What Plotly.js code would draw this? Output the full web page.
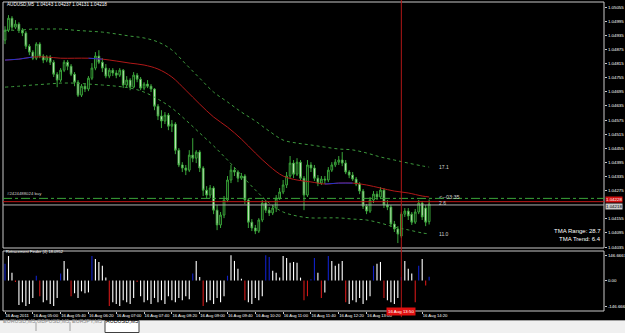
<!DOCTYPE html>
<html><head><meta charset="utf-8">
<script src="https://cdn.plot.ly/plotly-3.0.1.min.js"></script>
<style>html,body{margin:0;padding:0;background:#000;}#chart{width:625px;height:333px;}</style>
</head><body><div id="chart"></div>
<script>
// ---- data (AUDUSD,M5, 16 Aug 2011, bars from 04:20) ----
const opens = [1.04915,1.04957,1.05008,1.04970,1.04983,1.04957,1.04945,1.04889,1.04864,1.04838,
1.04898,1.04847,1.04830,1.04843,1.04821,1.04770,1.04745,1.04787,1.04821,1.04804,
1.04770,1.04736,1.04681,1.04719,1.04707,1.04753,1.04796,1.04847,1.04821,1.04796,
1.04762,1.04787,1.04775,1.04766,1.04787,1.04724,1.04745,1.04715,1.04766,1.04749,
1.04711,1.04728,1.04719,1.04707,1.04634,1.04592,1.04571,1.04596,1.04549,1.04558,
1.04447,1.04384,1.04371,1.04362,1.04426,1.04413,1.04439,1.04371,1.04277,1.04256,
1.04286,1.04192,1.04129,1.04171,1.04235,1.04320,1.04362,1.04354,1.04328,1.04337,
1.04235,1.04141,1.04116,1.04103,1.04150,1.04222,1.04192,1.04180,1.04201,1.04243,
1.04269,1.04299,1.04337,1.04392,1.04345,1.04396,1.04328,1.04256,1.04384,1.04371,
1.04328,1.04307,1.04324,1.04320,1.04362,1.04384,1.04396,1.04405,1.04392,1.04354,
1.04341,1.04324,1.04303,1.04273,1.04209,1.04188,1.04235,1.04260,1.04248,1.04277,
1.04214,1.04205,1.04133,1.04112,1.04082,1.04175,1.04188,1.04175,1.04141,1.04184,
1.04222,1.04201,1.04143];
const highs = [1.04974,1.05021,1.05017,1.05000,1.04991,1.04966,1.04953,1.04898,1.04872,1.04906,
1.04906,1.04855,1.04851,1.04851,1.04830,1.04779,1.04796,1.04830,1.04830,1.04813,
1.04779,1.04745,1.04728,1.04732,1.04762,1.04817,1.04864,1.04872,1.04838,1.04813,
1.04796,1.04796,1.04787,1.04796,1.04792,1.04762,1.04753,1.04779,1.04775,1.04758,
1.04736,1.04745,1.04728,1.04711,1.04643,1.04617,1.04609,1.04605,1.04575,1.04566,
1.04456,1.04396,1.04384,1.04447,1.04498,1.04447,1.04447,1.04379,1.04294,1.04299,
1.04294,1.04214,1.04184,1.04252,1.04337,1.04384,1.04375,1.04362,1.04350,1.04345,
1.04243,1.04154,1.04129,1.04158,1.04235,1.04235,1.04205,1.04214,1.04256,1.04286,
1.04320,1.04354,1.04422,1.04405,1.04413,1.04405,1.04337,1.04405,1.04396,1.04384,
1.04341,1.04337,1.04337,1.04375,1.04396,1.04409,1.04422,1.04439,1.04405,1.04362,
1.04354,1.04333,1.04311,1.04282,1.04218,1.04248,1.04273,1.04273,1.04290,1.04286,
1.04235,1.04214,1.04146,1.04124,1.04184,1.04201,1.04201,1.04184,1.04197,1.04235,
1.04231,1.04214,1.04237];
const lows = [1.04898,1.04949,1.04957,1.04962,1.04945,1.04932,1.04877,1.04851,1.04830,1.04830,
1.04838,1.04817,1.04821,1.04809,1.04758,1.04715,1.04736,1.04779,1.04787,1.04762,
1.04719,1.04673,1.04673,1.04694,1.04698,1.04745,1.04787,1.04813,1.04779,1.04753,
1.04753,1.04762,1.04753,1.04758,1.04711,1.04715,1.04702,1.04711,1.04736,1.04702,
1.04702,1.04711,1.04694,1.04617,1.04575,1.04541,1.04558,1.04532,1.04524,1.04430,
1.04375,1.04354,1.04341,1.04354,1.04396,1.04392,1.04354,1.04252,1.04243,1.04243,
1.04175,1.04107,1.04116,1.04158,1.04226,1.04307,1.04337,1.04311,1.04320,1.04218,
1.04116,1.04103,1.04090,1.04095,1.04141,1.04180,1.04167,1.04171,1.04184,1.04235,
1.04260,1.04286,1.04328,1.04328,1.04337,1.04320,1.04192,1.04248,1.04354,1.04316,
1.04294,1.04299,1.04303,1.04311,1.04354,1.04375,1.04384,1.04379,1.04345,1.04328,
1.04316,1.04294,1.04260,1.04197,1.04175,1.04180,1.04222,1.04235,1.04239,1.04201,
1.04192,1.04120,1.04099,1.04052,1.04073,1.04163,1.04150,1.04129,1.04133,1.04175,
1.04150,1.04124,1.04131];
const closes = [1.04957,1.05008,1.04970,1.04983,1.04957,1.04945,1.04889,1.04864,1.04838,1.04898,
1.04847,1.04830,1.04843,1.04821,1.04770,1.04745,1.04787,1.04821,1.04804,1.04770,
1.04736,1.04681,1.04719,1.04707,1.04753,1.04796,1.04847,1.04821,1.04796,1.04762,
1.04787,1.04775,1.04766,1.04787,1.04724,1.04745,1.04715,1.04766,1.04749,1.04711,
1.04728,1.04719,1.04707,1.04634,1.04592,1.04571,1.04596,1.04549,1.04558,1.04447,
1.04384,1.04371,1.04362,1.04426,1.04413,1.04439,1.04371,1.04277,1.04256,1.04286,
1.04192,1.04129,1.04171,1.04235,1.04320,1.04362,1.04354,1.04328,1.04337,1.04235,
1.04141,1.04116,1.04103,1.04150,1.04222,1.04192,1.04180,1.04201,1.04243,1.04269,
1.04299,1.04337,1.04392,1.04345,1.04396,1.04328,1.04256,1.04384,1.04371,1.04328,
1.04307,1.04324,1.04320,1.04362,1.04384,1.04396,1.04405,1.04392,1.04354,1.04341,
1.04324,1.04303,1.04273,1.04209,1.04188,1.04235,1.04260,1.04248,1.04277,1.04214,
1.04205,1.04133,1.04112,1.04090,1.04175,1.04188,1.04167,1.04141,1.04184,1.04222,
1.04163,1.04141,1.04218];

// TMA bands, read every 4 bars
const bandIdx = [0,4,8,12,16,20,24,28,32,36,40,44,48,52,56,60,64,68,72,76,80,84,88,92,96,100,104,108,112,116,120,122];
const tmaUpper = [1.04957,1.04957,1.04962,1.04962,1.04962,1.04957,1.04953,1.04949,1.04941,1.04932,1.04924,1.04907,1.04873,1.04813,1.04753,1.04694,1.04652,1.04609,1.04571,1.04528,1.04490,1.04477,1.04469,1.04460,1.04452,1.04448,1.04435,1.04418,1.04405,1.04392,1.04380,1.04375];
const tmaMiddle = [1.04830,1.04834,1.04843,1.04843,1.04838,1.04838,1.04838,1.04834,1.04826,1.04817,1.04809,1.04792,1.04758,1.04702,1.04643,1.04588,1.04545,1.04494,1.04435,1.04380,1.04337,1.04320,1.04312,1.04303,1.04307,1.04307,1.04299,1.04286,1.04273,1.04265,1.04252,1.04248];
const tmaLower = [1.04715,1.04719,1.04724,1.04728,1.04732,1.04732,1.04728,1.04724,1.04719,1.04711,1.04694,1.04664,1.04626,1.04575,1.04520,1.04465,1.04405,1.04341,1.04278,1.04222,1.04184,1.04167,1.04159,1.04159,1.04159,1.04154,1.04150,1.04137,1.04120,1.04108,1.04095,1.04091];
const tmaRising = [[0,8],[24,28],[92,100]]; // bar spans where the centre line is blue

// Retracement Finder (4)
const retrace = [96,141,45,-8,-141,-124,-146,-135,-100,28,
-90,-124,-113,-135,-146,-100,40,113,68,-90,
-73,-100,-62,-73,-68,141,124,107,85,17,
-146,-124,-135,-146,-113,-124,-135,-100,-8,-90,
-124,-113,-135,-100,-124,-113,-135,-90,-113,-124,
-100,-113,-90,-107,40,113,20,-146,-124,-113,
-135,-100,-124,-90,28,146,113,68,10,-113,
-124,-135,-100,-113,-90,146,135,56,45,17,
141,130,102,107,102,17,-113,-90,8,130,
45,-100,-68,141,113,85,96,113,-124,-135,
-113,-124,-100,-135,-113,-90,85,96,107,-100,
-113,-124,-135,-100,20,113,68,40,-124,85,
124,-28,22];
const upSignals = [0,9,16,25,54,64,75,76,88,89,93,106,114,119,122];
const downSignals = [3,10,19,30,38,57,69,86,87,91,98,109,118,121];

// axis labels (the 1.04215 and 13:40 labels are hidden under the price / time boxes)
const priceTicks = [1.05055,1.04995,1.04935,1.04875,1.04815,1.04755,1.04695,1.04635,1.04575,1.04515,
1.04455,1.04395,1.04335,1.04275,1.04155,1.04095,1.04035];
const tickLabels = ['16 Aug 2011','16 Aug 05:00','16 Aug 05:40','16 Aug 06:20','16 Aug 07:00','16 Aug 07:40',
'16 Aug 08:20','16 Aug 09:00','16 Aug 09:40','16 Aug 10:20','16 Aug 11:00','16 Aug 11:40','16 Aug 12:20',
'16 Aug 13:00','','16 Aug 14:20'];
const tabs = ['EURUSD,M5','GBPUSD,M5','EURJPY,M5','AUDUSD,M5'];

// ---- build ----
const start = Date.UTC(2011,7,16,4,20);
const BAR = 5*60*1000;
function fmt(ms){ return new Date(ms).toISOString().slice(0,19).replace('T',' '); }
const times = opens.map((_,i)=>fmt(start+i*BAR));
const bandTimes = bandIdx.map(i=>fmt(start+i*BAR));
const tickVals = tickLabels.map((_,k)=>fmt(start+k*8*BAR));

const green = '#3aa63a';
const traces = [];
traces.push({type:'scatter',mode:'lines',x:bandTimes,y:tmaUpper,line:{color:'#3d9a3d',width:1,dash:'dot',shape:'spline'},xaxis:'x',yaxis:'y'});
traces.push({type:'scatter',mode:'lines',x:bandTimes,y:tmaLower,line:{color:'#3d9a3d',width:1,dash:'dot',shape:'spline'},xaxis:'x',yaxis:'y'});
traces.push({type:'scatter',mode:'lines',x:bandTimes,y:tmaMiddle,line:{color:'#b01818',width:1,shape:'spline'},xaxis:'x',yaxis:'y'});
tmaRising.forEach(([a,b])=>{
  const xs=[],ys=[];
  bandIdx.forEach((bi,k)=>{ if(bi>=a&&bi<=b){xs.push(bandTimes[k]);ys.push(tmaMiddle[k]);} });
  traces.push({type:'scatter',mode:'lines',x:xs,y:ys,line:{color:'#2233cc',width:1},xaxis:'x',yaxis:'y'});
});
traces.push({type:'candlestick',x:times,open:opens,high:highs,low:lows,close:closes,xaxis:'x',yaxis:'y',whiskerwidth:0,
  increasing:{line:{color:green,width:1},fillcolor:'#000000'},
  decreasing:{line:{color:green,width:1},fillcolor:'#eef8e4'}});
const barColors = retrace.map((v,i)=> upSignals.includes(i)?'#1020c8':(downSignals.includes(i)?'#d01818':'#ffffff'));
traces.push({type:'bar',x:times,y:retrace,marker:{color:barColors,line:{width:0}},width:BAR*0.32,xaxis:'x',yaxis:'y2'});

const mainBottom = (311-248)/309, indTop = (311-251)/309;
const px = p => (p-3)/601;      // pixel x -> paper
const py = p => (311-p)/309;    // pixel y -> paper
const last = closes.length-1;

const shapes = [
 {type:'rect',xref:'paper',yref:'paper',x0:0,x1:1,y0:mainBottom,y1:1,line:{color:'#c8c8c8',width:1}},
 {type:'rect',xref:'paper',yref:'paper',x0:0,x1:1,y0:0,y1:indTop,line:{color:'#c8c8c8',width:1}},
 {type:'line',xref:'paper',yref:'y',x0:0,x1:1,y0:1.04242,y1:1.04242,line:{color:'#3aa63a',width:1,dash:'dashdot'}},
 {type:'line',xref:'paper',yref:'y',x0:0,x1:1,y0:1.04228,y1:1.04228,line:{color:'#c01818',width:1}},
 {type:'line',xref:'paper',yref:'y',x0:0,x1:1,y0:1.04214,y1:1.04214,line:{color:'#b0b0b0',width:1}},
 {type:'line',xref:'x',yref:'paper',x0:fmt(start+114*BAR),x1:fmt(start+114*BAR),y0:-0.02,y1:1.01,line:{color:'#b01818',width:1}},
 {type:'rect',xref:'paper',yref:'paper',x0:px(0),x1:px(625),y0:py(333),y1:py(320),fillcolor:'#f0f0f0',line:{width:0},layer:'above'},
 {type:'line',xref:'paper',yref:'paper',x0:px(0),x1:px(625),y0:py(320.5),y1:py(320.5),line:{color:'#a0a0a0',width:1},layer:'above'},
 {type:'rect',xref:'paper',yref:'paper',x0:px(105),x1:px(139),y0:py(332.5),y1:py(320.5),fillcolor:'#ffffff',line:{color:'#404040',width:1},layer:'above'},
 {type:'line',xref:'paper',yref:'paper',x0:px(36),x1:px(36),y0:py(331),y1:py(322),line:{color:'#a0a0a0',width:1},layer:'above'},
 {type:'line',xref:'paper',yref:'paper',x0:px(70),x1:px(70),y0:py(331),y1:py(322),line:{color:'#a0a0a0',width:1},layer:'above'}
];

const F = 'Liberation Sans, Arial, sans-serif';
const ann = (o)=>Object.assign({showarrow:false,font:{family:F,size:5,color:'#ffffff'}},o);
const annotations = [
 ann({xref:'paper',yref:'paper',x:px(5),y:py(5),xanchor:'left',yanchor:'middle',text:'AUDUSD,M5  1.04143 1.04237 1.04131 1.04218',font:{family:F,size:4.6,color:'#ffffff'}}),
 ann({xref:'paper',yref:'y',x:px(5),y:1.04242,xanchor:'left',yanchor:'bottom',text:'#2424488024 buy',font:{family:F,size:4.3,color:'#d0d0d0'}}),
 ann({xref:'x',yref:'y',x:fmt(start+(last+2.2)*BAR),y:tmaUpper[tmaUpper.length-1],xanchor:'left',text:'17.1',font:{family:F,size:5,color:'#d0d0d0'}}),
 ann({xref:'x',yref:'y',x:fmt(start+(last+2.2)*BAR),y:tmaLower[tmaLower.length-1],xanchor:'left',text:'11.0',font:{family:F,size:5,color:'#d0d0d0'}}),
 ann({xref:'x',yref:'y',x:fmt(start+(last+2.2)*BAR),y:1.04248,xanchor:'left',text:'<--03:35',font:{family:F,size:5.5,color:'#d0d0d0'}}),
 ann({xref:'x',yref:'y',x:fmt(start+(last+2.2)*BAR),y:1.04222,xanchor:'left',text:'2.6',font:{family:F,size:5,color:'#d0d0d0'}}),
 ann({xref:'paper',yref:'paper',x:px(603),y:py(236),xanchor:'right',text:'TMA Range: 28.7',font:{family:F,size:6,color:'#ffffff'}}),
 ann({xref:'paper',yref:'paper',x:px(603),y:py(244),xanchor:'right',text:'TMA Trend: 6.4',font:{family:F,size:6,color:'#ffffff'}}),
 ann({xref:'paper',yref:'paper',x:px(4),y:py(256),xanchor:'left',text:'Retracement Finder (4) 18.0952',font:{family:F,size:4,color:'#ffffff'}}),
 ann({xref:'paper',yref:'y',x:1,y:1.04222,xanchor:'left',yanchor:'bottom',xshift:1,text:'1.04228',bgcolor:'#d01010',borderpad:0,font:{family:F,size:4.4,color:'#ffffff'}}),
 ann({xref:'paper',yref:'y',x:1,y:1.04222,xanchor:'left',yanchor:'top',xshift:1,text:'1.04218',bgcolor:'#c8c8c8',borderpad:0,font:{family:F,size:4.4,color:'#000000'}}),
 ann({xref:'x',yref:'paper',x:fmt(start+114*BAR),y:py(315.5),xanchor:'center',text:'16 Aug 13:50',bgcolor:'#e01010',borderpad:1,font:{family:F,size:4.4,color:'#ffffff'}})
];
const tabX = [[2,35],[37,69],[71,104],[105,139]];
tabs.forEach((t,k)=>annotations.push(ann({xref:'paper',yref:'paper',x:px((tabX[k][0]+tabX[k][1])/2),y:py(326.5),xanchor:'center',text:t,
  font:{family:F,size:5.5,color:k===3?'#000000':'#8a8a8a'}})));

const layout = {
 width:625,height:333,margin:{l:3,r:21,t:2,b:22,pad:0},
 paper_bgcolor:'#000000',plot_bgcolor:'#000000',showlegend:false,hovermode:false,
 font:{family:F,color:'#ffffff',size:5},
 xaxis:{type:'date',anchor:'y2',range:[fmt(start-0.58*BAR),fmt(start+172.3*BAR)],tickmode:'array',tickvals:tickVals,ticktext:tickLabels,
   ticks:'outside',ticklen:2,tickcolor:'#c8c8c8',tickangle:0,ticklabelposition:'outside right',ticklabelstandoff:0,tickfont:{family:F,size:4.2,color:'#ffffff'},
   showgrid:false,zeroline:false,showline:false,rangeslider:{visible:false},fixedrange:true},
 yaxis:{domain:[mainBottom,1],range:[1.04031,1.05077],side:'right',anchor:'x',tickmode:'array',tickvals:priceTicks,tickformat:'.5f',
   ticks:'outside',ticklen:2,tickcolor:'#c8c8c8',tickfont:{family:F,size:4.4,color:'#ffffff'},showgrid:false,zeroline:false,fixedrange:true},
 yaxis2:{domain:[0,indTop],range:[-175,170],side:'right',anchor:'x',tickmode:'array',tickvals:[146.6667,0,-146.666],ticktext:['146.6667','0.00','-146.666'],
   ticks:'outside',ticklen:2,tickcolor:'#c8c8c8',tickfont:{family:F,size:4.4,color:'#ffffff'},showgrid:false,zeroline:false,fixedrange:true},
 bargap:0.7,
 shapes:shapes,annotations:annotations
};
Plotly.newPlot('chart',traces,layout,{displayModeBar:false,staticPlot:true});
</script></body></html>
